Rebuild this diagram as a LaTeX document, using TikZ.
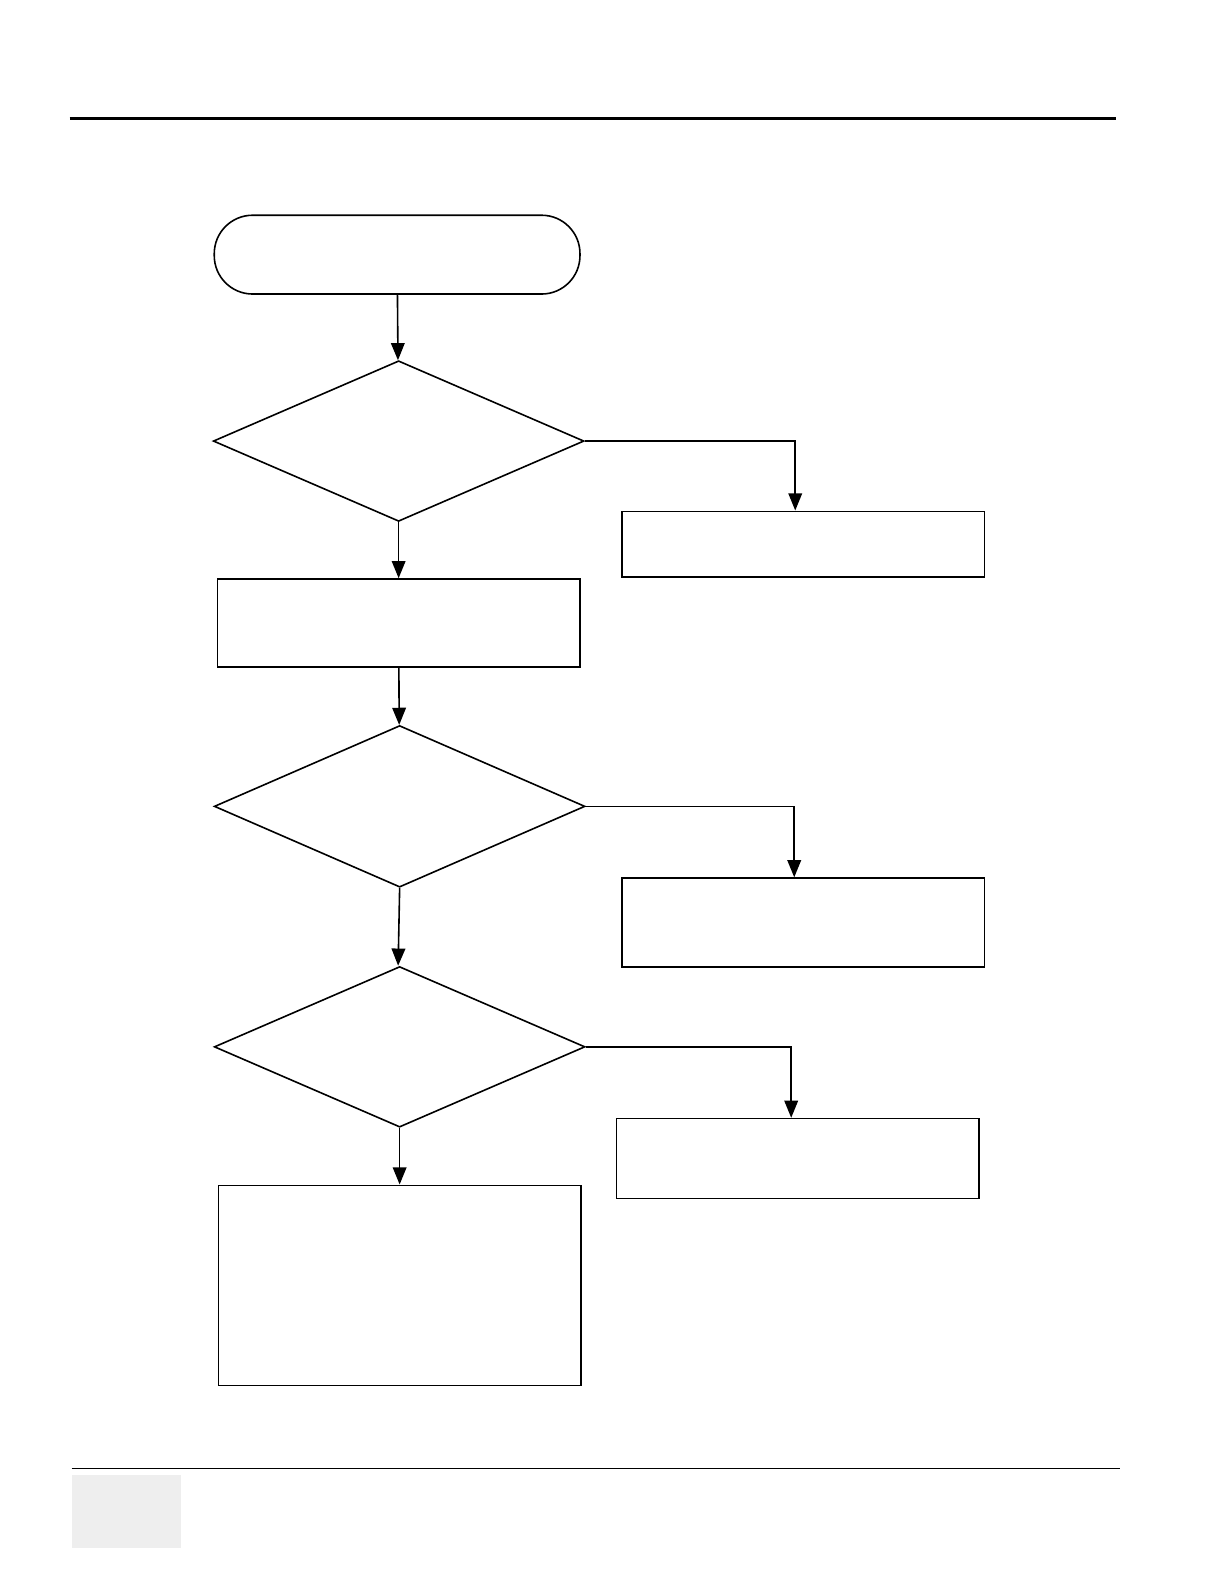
\documentclass[tikz,border=0pt]{standalone}
\usepackage{tikz}
\usetikzlibrary{arrows.meta,positioning,shapes.geometric}

\begin{document}
\begin{tikzpicture}[
x=0.02cm, y=-0.02cm,
every node/.style={draw, line width=0.9pt, inner sep=0pt},
startbox/.style={rectangle, rounded corners=0.76cm, minimum width=7.24cm, minimum height=1.56cm},
decision/.style={diamond, minimum width=7.34cm, minimum height=3.18cm},
action/.style={rectangle, minimum width=7.17cm},
flow/.style={line width=0.9pt, -{Triangle[length=0.34cm, width=0.27cm]}}
]
    % page frame
    \useasboundingbox (0,0) rectangle (1209.4,1567.6);
    \draw[line width=1.5pt] (69,117) -- (1104,117);
    \draw[line width=0.8pt] (71,1453) -- (1108,1453);
    \fill[gray!13] (71,1460) rectangle (179,1532);

    % left column
    \node[startbox] (start) at (393,252) {};
    \node[decision] (d1) at (394.5,436.5) {};
    \node[action, minimum height=1.74cm] (b1) at (394.5,616.5) {};
    \node[decision, minimum height=3.2cm] (d2) at (395.5,798) {};
    \node[decision] (d3) at (395.5,1036) {};
    \node[action, minimum height=3.96cm] (b2) at (395.5,1272) {};

    % right column
    \node[action, minimum height=1.3cm] (r1) at (795,538.5) {};
    \node[action, minimum height=1.76cm] (r2) at (795,913) {};
    \node[action, minimum height=1.58cm] (r3) at (789.5,1146.5) {};

    % connectors
    \draw[flow] (start) -- (d1);
    \draw[flow] (d1) -- (b1);
    \draw[flow] (b1) -- (d2);
    \draw[flow] (d2.south) -- ([xshift=-0.03cm]d3.north);
    \draw[flow] (d3) -- (b2);

    \draw[flow] (d1.east) -| ([xshift=-0.16cm]r1.north);
    \draw[flow] (d2.east) -| ([xshift=-0.18cm]r2.north);
    \draw[flow] (d3.east) -| ([xshift=-0.13cm]r3.north);

\end{tikzpicture}
\end{document}
